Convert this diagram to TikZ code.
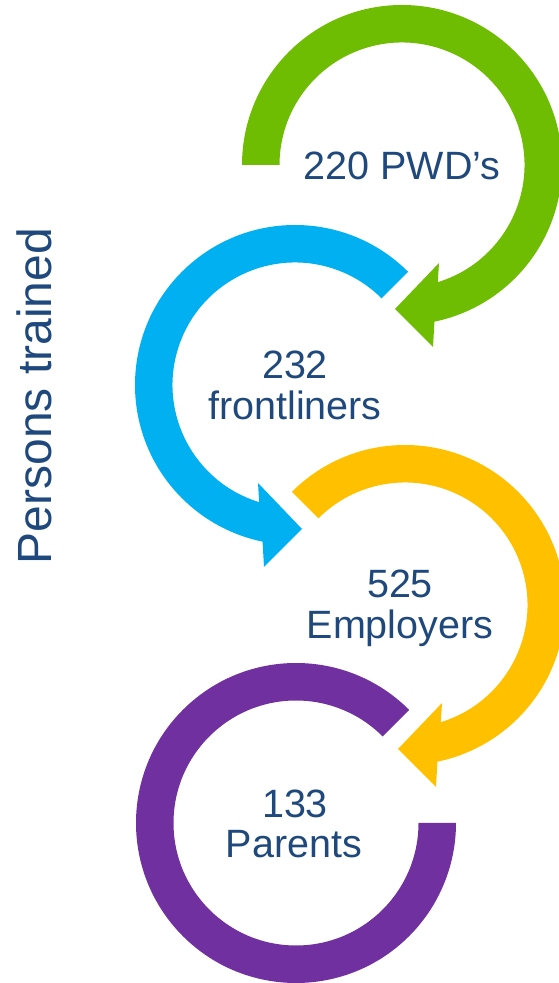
\documentclass[tikz,border=0pt]{standalone}
\usepackage{fontspec}
\setmainfont{Liberation Sans}
\definecolor{cgreen}{RGB}{110,189,2}
\definecolor{cblue}{RGB}{0,176,240}
\definecolor{cyellow}{RGB}{255,192,0}
\definecolor{cpurple}{RGB}{112,48,160}
\definecolor{ctext}{RGB}{31,73,125}
\tikzset{
  lbl/.style={text=ctext, inner sep=0pt, anchor=base, font=\fontsize{39.5}{41}\selectfont},
  side/.style={text=ctext, inner sep=0pt, anchor=base, rotate=90, font=\fontsize{48}{50}\selectfont}
}
\newcommand\ringarrow[2]{%
  \fill[#2] (#1:160) arc[start angle=#1, end angle=258.3, radius=160]
    -- (-31,-182) -- (7,-144) -- (-37,-98) -- (253:122.5)
    arc[start angle=253, end angle=#1, radius=122.5] -- cycle;}
\begin{document}
\begin{tikzpicture}[x=1pt,y=1pt]
\useasboundingbox (0,0) rectangle (559,983);
% green (mirrored)
\begin{scope}[shift={(402,818)}, xscale=-1]
  \ringarrow{0}{cgreen}
\end{scope}
% blue
\begin{scope}[shift={(295,598)}]
  \ringarrow{45}{cblue}
\end{scope}
% yellow (mirrored)
\begin{scope}[shift={(405,378)}, xscale=-1]
  \ringarrow{45}{cyellow}
\end{scope}
% purple ring
\begin{scope}[shift={(296,160)}]
  \fill[cpurple] (45:160) arc[start angle=45, end angle=360, radius=160]
    -- (0:122.5) arc[start angle=360, end angle=45, radius=122.5] -- cycle;
\end{scope}
% texts
\node[lbl] (t1) at (402,803) {220 PWD’s};
\node[lbl] (t2a) at (295,604) {232};
\node[lbl] (t2b) at (295,563) {frontliners};
\node[lbl] (t3a) at (400,385) {525};
\node[lbl] (t3b) at (400,344) {Employers};
\node[lbl] (t4a) at (295,165) {133};
\node[lbl] (t4b) at (294,125) {Parents};
\node[side] (side) at (51,587) {Persons trained};
\end{tikzpicture}
\end{document}
